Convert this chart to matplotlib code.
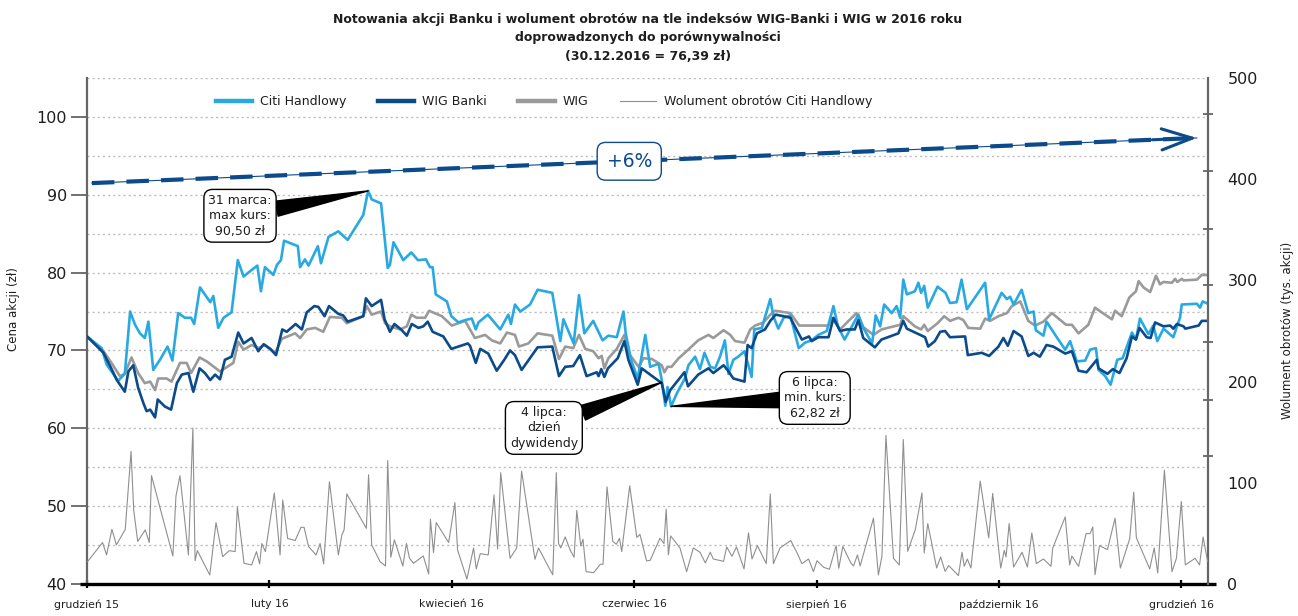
import matplotlib
matplotlib.use('Agg')
import matplotlib.pyplot as plt
from matplotlib.lines import Line2D

plt.rcParams['font.family'] = ['DejaVu Sans']

# ---------------- data (trading-session position since 31.12.2015) ----------------
citi_day = [0, 3.3, 4.4, 7, 8.5, 9.7, 10.8, 11.9, 13, 13.8, 14.9, 16.4, 18.1, 19.2, 20.5, 22, 23.4, 24.1,
            25.4, 26.5, 27.7, 28.4, 29.5, 30.7, 32.5, 33.9, 35.2, 36.7, 38.3, 39.1, 40, 41.9, 42.7, 43.6,
            44.3, 45.6, 47.4, 47.9, 49, 49.8, 51.9, 52.6, 54.3, 56.5, 58.6, 62.1, 63.2, 64, 66.1, 67.6,
            68.1, 68.9, 71.1, 72.9, 74.4, 76.2, 77.1, 77.7, 78.4, 80.9, 81.9, 83.5, 85, 86.5, 87.4, 88,
            90.1, 92.9, 94.7, 95.3, 96.2, 97.4, 99.6, 101.3, 104.6, 106.4, 107.1, 109.4, 110.6, 111.8,
            113.8, 115.9, 117.2, 119.1, 120.6, 121.1, 122.3, 123.8, 125.5, 126.6, 128.5, 129.2, 130,
            130.5, 131.3, 132.6, 134.4, 135.2, 136.7, 137.8, 138.8, 140.1, 141.2, 142.3, 143.4, 144.2,
            145.3, 146.4, 147.8, 149.4, 150, 151.7, 153.6, 154.3, 155.4, 156.6, 158.1, 160, 161.4,
            162.9, 164.4, 166.3, 167.8, 168.8, 170.3, 173.4, 174.5, 176.5, 177.3, 178.3, 179.2, 180.9,
            182, 182.8, 183.5, 184.3, 186.1, 186.9, 187.5, 188.2, 189, 191.2, 193, 194, 195.5, 196.6,
            197.8, 201.9, 202.8, 205.6, 206.8, 207.5, 208.3, 210.1, 211.6, 212.8, 213.3, 215, 215.7,
            218, 219.9, 221, 222.5, 224.4, 225.5, 226.8, 227.4, 228.9, 230.1, 231.6, 232.8, 234.9,
            235.8, 236.7, 238.6, 239.7, 240.6, 242, 244.2, 245.7, 246.1, 249.5, 250.2, 250.8, 252]
citi_val = [71.8, 70.3, 68.2, 66.1, 67.0, 75.0, 73.3, 72.2, 71.6, 73.7, 67.5, 68.8, 70.5, 68.7, 74.8, 74.2,
            74.2, 73.4, 78.1, 77.2, 76.2, 77.0, 72.9, 74.2, 74.9, 81.6, 79.5, 80.2, 80.9, 77.6, 80.7,
            79.7, 81.0, 81.6, 84.1, 83.8, 83.4, 80.7, 81.7, 80.9, 83.4, 81.2, 84.6, 85.3, 84.2, 87.4,
            90.5, 89.4, 88.9, 80.6, 81.0, 83.9, 81.6, 82.6, 81.6, 81.7, 80.7, 80.7, 77.2, 76.3, 74.4,
            73.6, 73.9, 74.1, 72.7, 73.6, 74.6, 72.7, 74.6, 73.4, 75.9, 75.0, 75.9, 77.8, 77.4, 71.2,
            74.0, 70.9, 77.1, 72.2, 73.8, 71.3, 71.9, 71.7, 75.0, 72.2, 68.8, 66.4, 72.0, 67.9, 68.3,
            66.2, 62.9, 65.3, 62.82, 64.5, 66.4, 68.1, 69.2, 67.6, 69.7, 67.9, 67.7, 69.2, 71.3, 67.0,
            68.8, 69.2, 69.9, 66.6, 72.7, 72.9, 76.6, 74.4, 72.8, 74.2, 74.5, 70.3, 71.0, 71.3, 72.0,
            72.5, 75.7, 73.1, 71.4, 74.6, 72.9, 70.9, 74.5, 73.1, 75.9, 74.8, 75.7, 74.2, 79.1, 77.2,
            77.6, 78.7, 77.4, 78.3, 75.5, 78.2, 77.4, 76.1, 76.2, 79.1, 75.3, 78.7, 74.0, 77.4, 76.6,
            76.9, 75.9, 77.8, 74.8, 75.0, 72.6, 71.9, 73.7, 71.7, 70.1, 71.2, 68.6, 68.7, 70.1, 70.3,
            67.5, 66.7, 65.6, 68.8, 69.0, 72.3, 71.4, 74.1, 72.1, 73.2, 71.2, 72.8, 71.7, 74.2, 75.9,
            76.0, 75.5, 76.3, 76.0]

wigb_day = [0, 3.7, 5.2, 6.7, 8.5, 9.3, 10.4, 11.5, 12.7, 13.4, 14.2, 15.3, 15.9, 17.5, 18.9, 20.2, 21.3,
            22.8, 23.9, 25.3, 26.5, 27.7, 28.8, 29.9, 31, 32.5, 34, 35.2, 37, 38.5, 39.7, 41.2, 42.5,
            43.9, 44.9, 46.9, 48.3, 49.4, 51.1, 52, 53.4, 54.4, 56.5, 57.6, 58.6, 62.1, 62.7, 64, 66.1,
            66.9, 68.1, 69.1, 70.6, 71.9, 73, 74.5, 75.6, 76.6, 77.7, 80.1, 81.9, 85.6, 86.1, 87.4,
            88.4, 90.2, 92.1, 93.8, 95.1, 96.2, 97.7, 100.3, 101.3, 104.6, 106.1, 107.5, 109.3, 110.8,
            112.3, 114.6, 115, 115.6, 116.3, 117.1, 119.3, 120.8, 121.7, 123.8, 124.7, 129.2, 130.1,
            131.1, 134.3, 135.1, 137.4, 139.7, 140.8, 143.1, 144.1, 145.3, 147.8, 148.5, 149.4, 150.6,
            152.4, 153.6, 154.8, 156.6, 158.1, 160.7, 162.3, 162.9, 164.4, 166.7, 167.8, 169.3, 170.8,
            172.6, 173.4, 174.5, 177.1, 178.6, 182.4, 183.5, 184.3, 188.4, 189.1, 190.6, 191.8, 192.9,
            194, 197.4, 198, 201.1, 202.8, 204.9, 206, 207, 208.3, 210.1, 211.6, 212.8, 214.2, 215.7,
            217.2, 219.9, 221.4, 222.9, 224.7, 227, 227.4, 229.4, 230.6, 232.1, 233.7, 234.9, 235.8,
            236.6, 238.2, 239.1, 240.1, 242, 243.5, 244.2, 245, 246.5, 246.9, 249.9, 250.6, 252]
wigb_val = [71.8, 69.7, 68.0, 66.2, 64.7, 67.3, 68.1, 65.2, 63.2, 62.2, 62.4, 61.4, 63.7, 62.8, 62.4, 65.8,
            66.9, 67.1, 64.7, 67.7, 67.1, 66.2, 66.9, 66.3, 68.8, 69.2, 72.3, 70.9, 71.6, 69.9, 70.8,
            70.2, 69.4, 72.7, 72.4, 73.4, 72.7, 74.9, 75.7, 75.6, 74.4, 75.7, 74.7, 74.5, 73.7, 74.4,
            76.7, 75.7, 76.5, 74.0, 72.4, 73.4, 72.7, 71.9, 73.4, 72.9, 73.1, 73.7, 72.4, 71.8, 70.2,
            70.9, 70.6, 68.4, 70.2, 69.6, 67.4, 68.8, 70.0, 69.4, 67.5, 69.6, 70.4, 70.5, 66.7, 67.9,
            68.0, 69.4, 66.7, 67.2, 66.7, 67.6, 66.6, 67.7, 69.0, 71.2, 68.8, 65.6, 67.7, 65.8, 63.4,
            64.9, 67.2, 65.4, 66.9, 67.7, 67.1, 68.1, 67.4, 66.4, 66.0, 70.7, 70.3, 72.2, 72.7, 73.8,
            74.6, 74.4, 74.2, 71.4, 71.8, 71.2, 71.7, 71.7, 74.2, 72.5, 72.7, 72.7, 73.9, 71.6, 70.4,
            71.4, 72.2, 73.8, 72.8, 71.7, 70.5, 71.2, 72.4, 72.5, 71.7, 71.8, 69.4, 69.7, 69.3, 70.5,
            71.6, 70.6, 72.5, 71.8, 69.3, 69.7, 69.2, 70.7, 70.5, 69.6, 69.9, 67.4, 67.2, 68.8, 67.7,
            67.0, 67.6, 67.1, 69.0, 71.8, 71.4, 72.9, 71.7, 71.6, 73.6, 73.1, 73.2, 72.8, 73.4, 73.1,
            72.8, 73.2, 73.8, 73.8]

wig_day = [0, 3.7, 5.5, 7.4, 8.5, 10, 11.5, 13, 14.2, 15.3, 16, 17.9, 19, 20.9, 22.4, 23.4, 25.3, 26.9,
           29.9, 31, 32.9, 34, 35.2, 37, 38.5, 40, 42.3, 43.8, 46.8, 47.9, 49.4, 51.3, 53.1, 54.6, 57.3,
           58.4, 62.1, 62.9, 64, 66.1, 67, 68.1, 70.4, 71.9, 72.9, 74.1, 76, 76.9, 79.8, 82, 85, 87.2,
           89.5, 91, 92.9, 94.4, 96.2, 97.1, 99.2, 101.3, 104.6, 106.1, 107.5, 109.3, 110.6, 112, 113.8,
           115, 115.7, 116.3, 117.2, 119.1, 120.8, 121.7, 124, 125.1, 127, 129.2, 129.8, 130.5, 131.4,
           133, 134.4, 135.9, 137.4, 139.7, 140.8, 143.1, 144.6, 145.7, 147.8, 149.1, 150.2, 152.1,
           153.6, 154.7, 158.1, 160.1, 162.9, 166.7, 167.4, 169.3, 171.2, 173, 174.5, 176.8, 178.6,
           182.8, 183.5, 186.1, 187.5, 188.2, 189, 191.2, 192.7, 194, 195.9, 197, 198.1, 200.8, 201.9,
           203, 204.9, 206.8, 207.9, 209.8, 211.6, 213.1, 215, 216.9, 220.1, 221.4, 222.9, 225.1, 226.6,
           228.1, 230.4, 231.1, 232.6, 234.3, 235.8, 236.4, 237.5, 239, 240.3, 241.2, 242, 243.9, 244.6,
           245.1, 246.1, 246.5, 249.5, 250.6, 252]
wig_val = [71.8, 69.9, 68.4, 66.7, 67.0, 69.1, 67.1, 65.8, 66.0, 64.9, 66.4, 66.4, 66.0, 68.4, 68.4, 67.1,
           69.1, 68.6, 67.3, 67.7, 68.4, 71.1, 70.1, 70.7, 70.3, 70.7, 69.7, 71.5, 72.2, 71.6, 72.7, 72.9,
           72.4, 74.3, 74.2, 73.5, 74.4, 75.7, 74.6, 75.0, 73.5, 73.1, 72.7, 73.1, 74.6, 74.2, 74.2, 75.1,
           74.4, 73.2, 73.8, 71.6, 72.0, 71.3, 70.9, 72.3, 72.0, 70.5, 70.9, 72.2, 71.9, 68.9, 70.5, 70.3,
           72.0, 70.2, 69.9, 69.0, 69.3, 67.7, 69.0, 70.2, 72.0, 69.7, 67.9, 69.0, 68.9, 68.1, 67.2, 67.9,
           67.9, 69.0, 69.7, 70.5, 71.3, 72.0, 71.6, 72.6, 72.0, 71.2, 71.0, 72.7, 73.2, 73.6, 74.6, 75.1,
           74.8, 73.2, 73.2, 73.2, 74.2, 72.7, 73.8, 74.8, 73.0, 72.0, 72.7, 73.3, 74.4, 73.1, 72.7, 73.3,
           72.5, 73.5, 74.4, 73.8, 74.2, 73.9, 72.9, 72.8, 74.1, 73.8, 74.4, 74.8, 75.7, 76.3, 73.8, 73.2,
           73.7, 74.8, 73.3, 73.3, 72.2, 73.3, 75.5, 74.9, 74.0, 75.1, 74.4, 76.8, 77.6, 78.9, 78.1, 77.5,
           79.6, 78.5, 78.8, 78.7, 79.2, 78.8, 79.2, 79.0, 79.1, 79.7, 79.7]

vol_day = [0.1, 3.5, 4.4, 5.6, 6.6, 8.6, 9.9, 10.5, 11.4, 13.1, 14, 14.5, 19.3, 20, 20.9, 22.8, 23.8, 24.3,
           24.8, 27.6, 29, 30.5, 32, 33.3, 33.8, 35.3, 37, 38.1, 38.8, 39.3, 40.1, 42.1, 43.4, 44, 45.1,
           46.8, 48.1, 48.8, 49.8, 51.5, 52.4, 53.2, 54.5, 56.5, 57.3, 57.8, 58.4, 62.8, 63.3, 64, 65.9,
           67.1, 67.6, 68.3, 69.1, 71, 71.8, 72.5, 73.4, 75.6, 76.8, 77.2, 77.9, 78.5, 81.3, 82.7, 83.3,
           85.4, 86.9, 87.5, 88.4, 90.2, 91.5, 92.3, 93, 95.1, 96.6, 97.7, 100.7, 101.5, 104.7, 105.5, 106,
           106.5, 107.5, 108.6, 109.5, 110.1, 111, 111.5, 112.2, 113.9, 115.4, 116, 116.9, 118.2, 119,
           119.7, 120.2, 122, 123.6, 124.3, 125.8, 126.6, 128.8, 129.7, 130.2, 130.7, 131.2, 133.3,
           134.8, 136.3, 137.8, 139, 140.1, 140.8, 143.1, 143.8, 145, 146, 147.7, 148.7, 149.5, 150.7,
           152.7, 153.6, 154.3, 155.8, 158.2, 159.7, 160.7, 162.2, 163.3, 164.1, 165.6, 166.9, 168.4,
           169, 169.9, 171.7, 172.3, 173.2, 173.8, 176.8, 177.9, 178.7, 179.6, 181.3, 182.6, 183.5,
           184.5, 186.2, 187.7, 188.2, 189, 191, 191.9, 192.9, 193.7, 195.9, 196.7, 197.2, 197.9, 198.7,
           200.8, 202.7, 203.6, 205.4, 206.2, 206.6, 207.3, 208.3, 210.2, 211.4, 212.4, 213.4, 215,
           216.7, 217.1, 219.9, 220.9, 221.4, 222.9, 224.6, 225.5, 226.1, 226.6, 227.6, 229.4, 231.1,
           232.3, 234.4, 235.3, 235.9, 238.9, 239.9, 240.7, 242.2, 243.9, 244.9, 246, 246.9, 249.1,
           250.1, 250.9, 251.9]
vol_val = [22, 41, 28.7, 54, 38.6, 54, 131, 73, 42, 53.5, 41, 107, 27.7, 87, 107, 28.7, 154, 23, 33, 8.9,
           60.7, 27, 33, 32, 76, 20.5, 18.8, 32, 19.8, 40, 32, 90, 28.7, 83, 45, 43, 56, 56, 37, 28.7, 40,
           19.8, 101, 28.7, 48.5, 53.5, 89, 55, 108, 38.6, 22, 17.8, 122, 26.4, 43.6, 17.8, 40, 25.4, 20.5,
           27.7, 9.9, 64, 31, 60.7, 41, 80.5, 33.7, 4.9, 35.6, 14.9, 30, 28.7, 88, 34.6, 110, 25.4, 35.6,
           111.5, 24.4, 35.6, 9, 110, 40, 35.6, 46.5, 33.7, 26.4, 72.6, 37.6, 44.2, 12.2, 11.2, 19.5, 19.5,
           96, 42, 39.3, 45.2, 32, 97, 46, 49, 22.8, 23.4, 45.2, 40, 74, 28.7, 47.5, 35.6, 12.2, 35.6,
           31.4, 20.8, 31.4, 24.7, 22.4, 36.6, 27.4, 36.6, 14.9, 50.5, 24.7, 37.9, 20.1, 89, 20.1, 35.6,
           43, 30, 20.1, 24.7, 12.2, 23, 16.5, 14.6, 37.9, 15.5, 37.2, 20.8, 17.8, 28.7, 17.8, 65, 8.9,
           27.4, 146.8, 25.4, 18.8, 142.8, 32.3, 53.8, 90, 30.7, 59.7, 15.8, 26.7, 12.5, 18.2, 8.3, 31.4,
           17.5, 24.7, 15.8, 101.7, 45.6, 89.5, 15.8, 33.3, 26.7, 59.7, 16.8, 31.4, 16.8, 50.5, 20.1,
           24.7, 17.5, 35.6, 66.3, 18.8, 27.7, 17.5, 49.8, 49.8, 56.4, 9.2, 37.9, 34, 65, 15.8, 44.6, 90.8,
           45.6, 14.9, 35.6, 10.9, 112.5, 12.2, 25.4, 81.5, 18.8, 25.4, 18.8, 46.5, 22.4]

tick_days = [0, 41, 82, 123, 164, 205, 246]
tick_labels = ['grudzień 15', 'luty 16', 'kwiecień 16', 'czerwiec 16', 'sierpień 16',
               'październik 16', 'grudzień 16']

series_labels = ['Citi Handlowy', 'WIG Banki', 'WIG', 'Wolument obrotów Citi Handlowy']

# trend arrow (+6%) and callouts
trend_start = (1.1, 91.5)
trend_end = (249.5, 97.3)
trend_label = '+6%'
trend_label_pos = (121.9, 94.3)
max_point = (63.2, 90.5)
max_text = '31 marca:\nmax kurs:\n90,50 zł'
max_text_pos = (34.4, 87.3)
div_point = (129.2, 65.9)
div_text = '4 lipca:\ndzień\ndywidendy'
div_text_pos = (102.7, 60.05)
min_point = (131.3, 62.82)
min_text = '6 lipca:\nmin. kurs:\n62,82 zł'
min_text_pos = (163.6, 63.9)

title = ('Notowania akcji Banku i wolument obrotów na tle indeksów WIG-Banki i WIG w 2016 roku\n'
         'doprowadzonych do porównywalności\n(30.12.2016 = 76,39 zł)')

# ---------------- styling ----------------
C_CITI = '#29a9e1'
C_WIGB = '#0b4a8b'
C_WIG = '#9a9a9a'
C_VOL = '#8f8f8f'
C_AX = '#666666'
C_TXT = '#1e1e1e'

W, H = 1298, 616
fig = plt.figure(figsize=(W / 100, H / 100), dpi=100)
L, R, B, T = 87, 1208, 584, 78
ax = fig.add_axes([L / W, 1 - B / H, (R - L) / W, (B - T) / H])
ax2 = ax.twinx()
ax2.patch.set_visible(False)

ax.set_xlim(0, 252)
ax.set_ylim(40, 105)
ax2.set_ylim(0, 500)

# grid
for g in range(45, 106, 5):
    ax.axhline(g, color='#bdbdbd', lw=1.0, ls=(0, (1.5, 2.2)), zorder=0)

ax.plot(wig_day, wig_val, color=C_WIG, lw=1.9, zorder=3, solid_joinstyle='round')
ax.plot(citi_day, citi_val, color=C_CITI, lw=1.9, zorder=4, solid_joinstyle='round')
ax.plot(wigb_day, wigb_val, color=C_WIGB, lw=1.9, zorder=5, solid_joinstyle='round')
ax2.plot(vol_day, vol_val, color=C_VOL, lw=0.8, zorder=3)

# trend arrow
ax.plot([trend_start[0], trend_end[0]], [trend_start[1], trend_end[1]], color=C_WIGB, lw=0.8, zorder=6)
ax.plot([trend_start[0], trend_end[0]], [trend_start[1], trend_end[1]], color=C_WIGB, lw=3.0,
        ls=(0, (5.4, 2.9)), zorder=6, solid_capstyle='butt', dash_capstyle='butt')
back_x = trend_end[0] - 10
back_y = trend_start[1] + (trend_end[1] - trend_start[1]) * (back_x - trend_start[0]) / (trend_end[0] - trend_start[0])
ax.annotate('', xy=trend_end, xytext=(back_x, back_y), zorder=7,
            arrowprops=dict(arrowstyle='->,head_length=1.1,head_width=0.38', color=C_WIGB, lw=2.2,
                            mutation_scale=20, shrinkA=0, shrinkB=0))
ax.text(trend_label_pos[0], trend_label_pos[1], trend_label, ha='center', va='center', fontsize=13.5,
        color=C_WIGB, zorder=9,
        bbox=dict(boxstyle='round,pad=0.5,rounding_size=0.45', fc='white', ec=C_WIGB, lw=1.0))

# callouts
for txt, pos, pt in [(max_text, max_text_pos, max_point), (div_text, div_text_pos, div_point),
                     (min_text, min_text_pos, min_point)]:
    ax.annotate(txt, xy=pt, xytext=pos, textcoords='data', ha='center', va='center',
                fontsize=9, color=C_TXT, linespacing=1.25, zorder=10,
                bbox=dict(boxstyle='round,pad=0.35,rounding_size=0.7', fc='white', ec='black', lw=1.0),
                arrowprops=dict(arrowstyle='wedge,tail_width=1.1,shrink_factor=0.5', fc='black',
                                ec='black', mutation_scale=10, shrinkA=0, shrinkB=0))

# spines
for s in ['top', 'right']:
    ax.spines[s].set_visible(False)
for s in ['top', 'left', 'bottom']:
    ax2.spines[s].set_visible(False)
ax.spines['left'].set_color(C_AX)
ax.spines['left'].set_linewidth(1.6)
ax2.spines['right'].set_color(C_AX)
ax2.spines['right'].set_linewidth(1.6)
ax.spines['bottom'].set_visible(False)
ax.plot([-0.006, 1.007], [0, 0], transform=ax.transAxes, color='black', lw=2.4, clip_on=False,
        zorder=20, solid_capstyle='butt')

# ticks
ax.set_yticks(range(40, 101, 10))
ax.tick_params(axis='y', direction='out', length=11.5, width=1.3, color=C_AX, labelsize=11.5,
               labelcolor=C_TXT, pad=3)
ax.set_xticks(tick_days)
ax.set_xticklabels(tick_labels)
ax.tick_params(axis='x', direction='inout', length=6, width=1.6, color='black', labelsize=7.8,
               labelcolor=C_TXT, pad=8)

ax2.set_yticks(range(0, 501, 100))
ax2.set_yticks([126, 182, 239, 295, 351, 408, 464, 500], minor=True)
ax2.tick_params(axis='y', which='major', length=0, labelsize=11.5, labelcolor=C_TXT, pad=14)
ax2.tick_params(axis='y', which='minor', direction='inout', length=7, width=1.3, color=C_AX)

# labels
ax.set_ylabel('Cena akcji (zł)', fontsize=8.5, color=C_TXT)
ax.yaxis.set_label_coords((20 - L) / (R - L), 0.543)
ax2.set_ylabel('Wolument obrotów (tys. akcji)', fontsize=8.5, color=C_TXT, rotation=90)
ax2.yaxis.set_label_coords((1281 - L) / (R - L), 0.502)

fig.text(648 / W, 1 - 37.5 / H, title, ha='center', va='center', fontsize=9, fontweight='bold',
         color=C_TXT, linespacing=1.55)

# legend
handles = [Line2D([], [], color=C_CITI, lw=3.2), Line2D([], [], color=C_WIGB, lw=3.2),
           Line2D([], [], color=C_WIG, lw=3.2), Line2D([], [], color=C_VOL, lw=0.8)]
ax.legend(handles, series_labels, loc='center', bbox_to_anchor=(0.408, 0.953), ncol=4, frameon=False,
          fontsize=9, handlelength=2.9, columnspacing=2.5, handletextpad=0.65, labelcolor=C_TXT)

fig.savefig('out.png', dpi=100)
